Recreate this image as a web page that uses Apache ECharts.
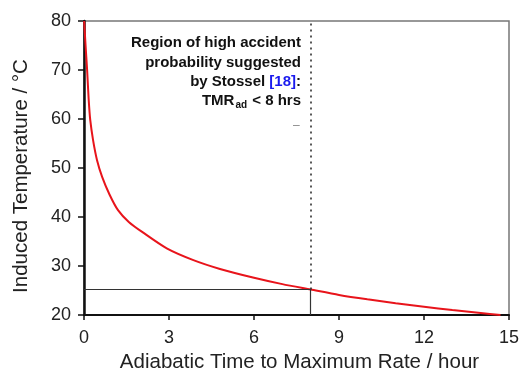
<!DOCTYPE html>
<html>
<head>
<meta charset="utf-8">
<script src="https://cdn.jsdelivr.net/npm/echarts@6/dist/echarts.min.js"></script>
<style>
  html, body { margin: 0; padding: 0; background: #fff; }
  #chart { width: 521px; height: 374px; }
</style>
</head>
<body>
<div id="chart"></div>
<script>
// TMRad (hours) vs induced temperature (°C)
const tmrHours = [0.005, 0.05, 0.11, 0.165, 0.22, 0.32, 0.46, 0.64, 0.9, 1.2, 1.58, 2.09, 2.92, 3.86, 4.8, 6.0, 7.0, 8.0, 9.0, 10.0, 11.0, 12.0, 13.0, 14.0, 14.7];
const inducedTemp = [80, 75.5, 70, 64, 59.8, 55.7, 51.6, 48.2, 44.6, 41.4, 39.0, 36.8, 33.6, 31.2, 29.4, 27.6, 26.3, 25.2, 24.1, 23.2, 22.4, 21.7, 21.0, 20.4, 20.0];
const criticalTime = 8;
const criticalTemp = 25.2;
const xTicks = [0, 3, 6, 9, 12, 15];
const yTicks = [20, 30, 40, 50, 60, 70, 80];
const noteLines = [
  'Region of high accident',
  'probability suggested',
  'by Stossel {blue|[18]}:',
  'TMR{sub|ad} < 8 hrs'
];

const chart = echarts.init(document.getElementById('chart'));
const font = 'Liberation Sans, Arial, Helvetica, sans-serif';

const noteRich = {
  blue: { fontFamily: font, fontSize: 15, fontWeight: 'bold', fill: '#1a1aee' },
  sub: { fontFamily: font, fontSize: 10, fontWeight: 'bold', fill: '#111', padding: [8, 1, 0, 1] }
};

const noteGraphics = noteLines.map((line, i) => ({
  type: 'text',
  x: 301,
  y: 43 + i * 19.4,
  style: {
    text: line,
    fontFamily: font,
    fontSize: 15,
    fontWeight: 'bold',
    fill: '#111',
    align: 'right',
    verticalAlign: 'middle',
    rich: noteRich
  }
}));

chart.setOption({
  animation: false,
  backgroundColor: '#fff',
  grid: {
    left: 84, right: 12, top: 21, bottom: 59,
    outerBoundsMode: 'none',
    containLabel: false,
    show: true, borderColor: '#777', borderWidth: 1.5
  },
  xAxis: {
    type: 'value',
    min: xTicks[0], max: xTicks[xTicks.length - 1], interval: 3,
    name: 'Adiabatic Time to Maximum Rate / hour',
    nameLocation: 'middle', nameGap: 33,
    nameTextStyle: { fontFamily: font, fontSize: 20.5, color: '#222', padding: [0, 0, 0, 6] },
    axisLine: { lineStyle: { color: '#111', width: 2 } },
    axisTick: { length: 5, lineStyle: { color: '#111', width: 1.5 } },
    axisLabel: { fontFamily: font, fontSize: 18, color: '#222', margin: 14 },
    splitLine: { show: false }
  },
  yAxis: {
    type: 'value',
    min: yTicks[0], max: yTicks[yTicks.length - 1], interval: 10,
    name: 'Induced Temperature / °C',
    nameLocation: 'middle', nameGap: 52,
    nameTextStyle: { fontFamily: font, fontSize: 20.5, color: '#222', padding: [0, 16, 0, 0] },
    axisLine: { show: true, lineStyle: { color: '#111', width: 2.5 } },
    axisTick: { show: true, length: 6, lineStyle: { color: '#111', width: 1.5 } },
    axisLabel: { fontFamily: font, fontSize: 18, color: '#222', margin: 13 },
    splitLine: { show: false }
  },
  series: [
    {
      type: 'line',
      data: tmrHours.map((t, i) => [t, inducedTemp[i]]),
      smooth: 0.25,
      showSymbol: false,
      lineStyle: { color: '#e8141b', width: 2 },
      z: 3,
      markLine: {
        silent: true,
        symbol: 'none',
        label: { show: false },
        data: [
          [{ coord: [criticalTime, criticalTemp], lineStyle: { type: [2, 4], color: '#222', width: 1.5 } },
           { coord: [criticalTime, yTicks[yTicks.length - 1]] }],
          [{ coord: [criticalTime, yTicks[0]], lineStyle: { type: 'solid', color: '#333', width: 1.2 } },
           { coord: [criticalTime, criticalTemp] }],
          [{ coord: [0, criticalTemp], lineStyle: { type: 'solid', color: '#333', width: 1.2 } },
           { coord: [criticalTime, criticalTemp] }]
        ]
      }
    }
  ],
  graphic: noteGraphics.concat([
    {
      type: 'text',
      x: 293,
      y: 126,
      style: { text: '–', fontFamily: font, fontSize: 12, fill: '#888', verticalAlign: 'middle' }
    }
  ])
});
</script>
</body>
</html>
